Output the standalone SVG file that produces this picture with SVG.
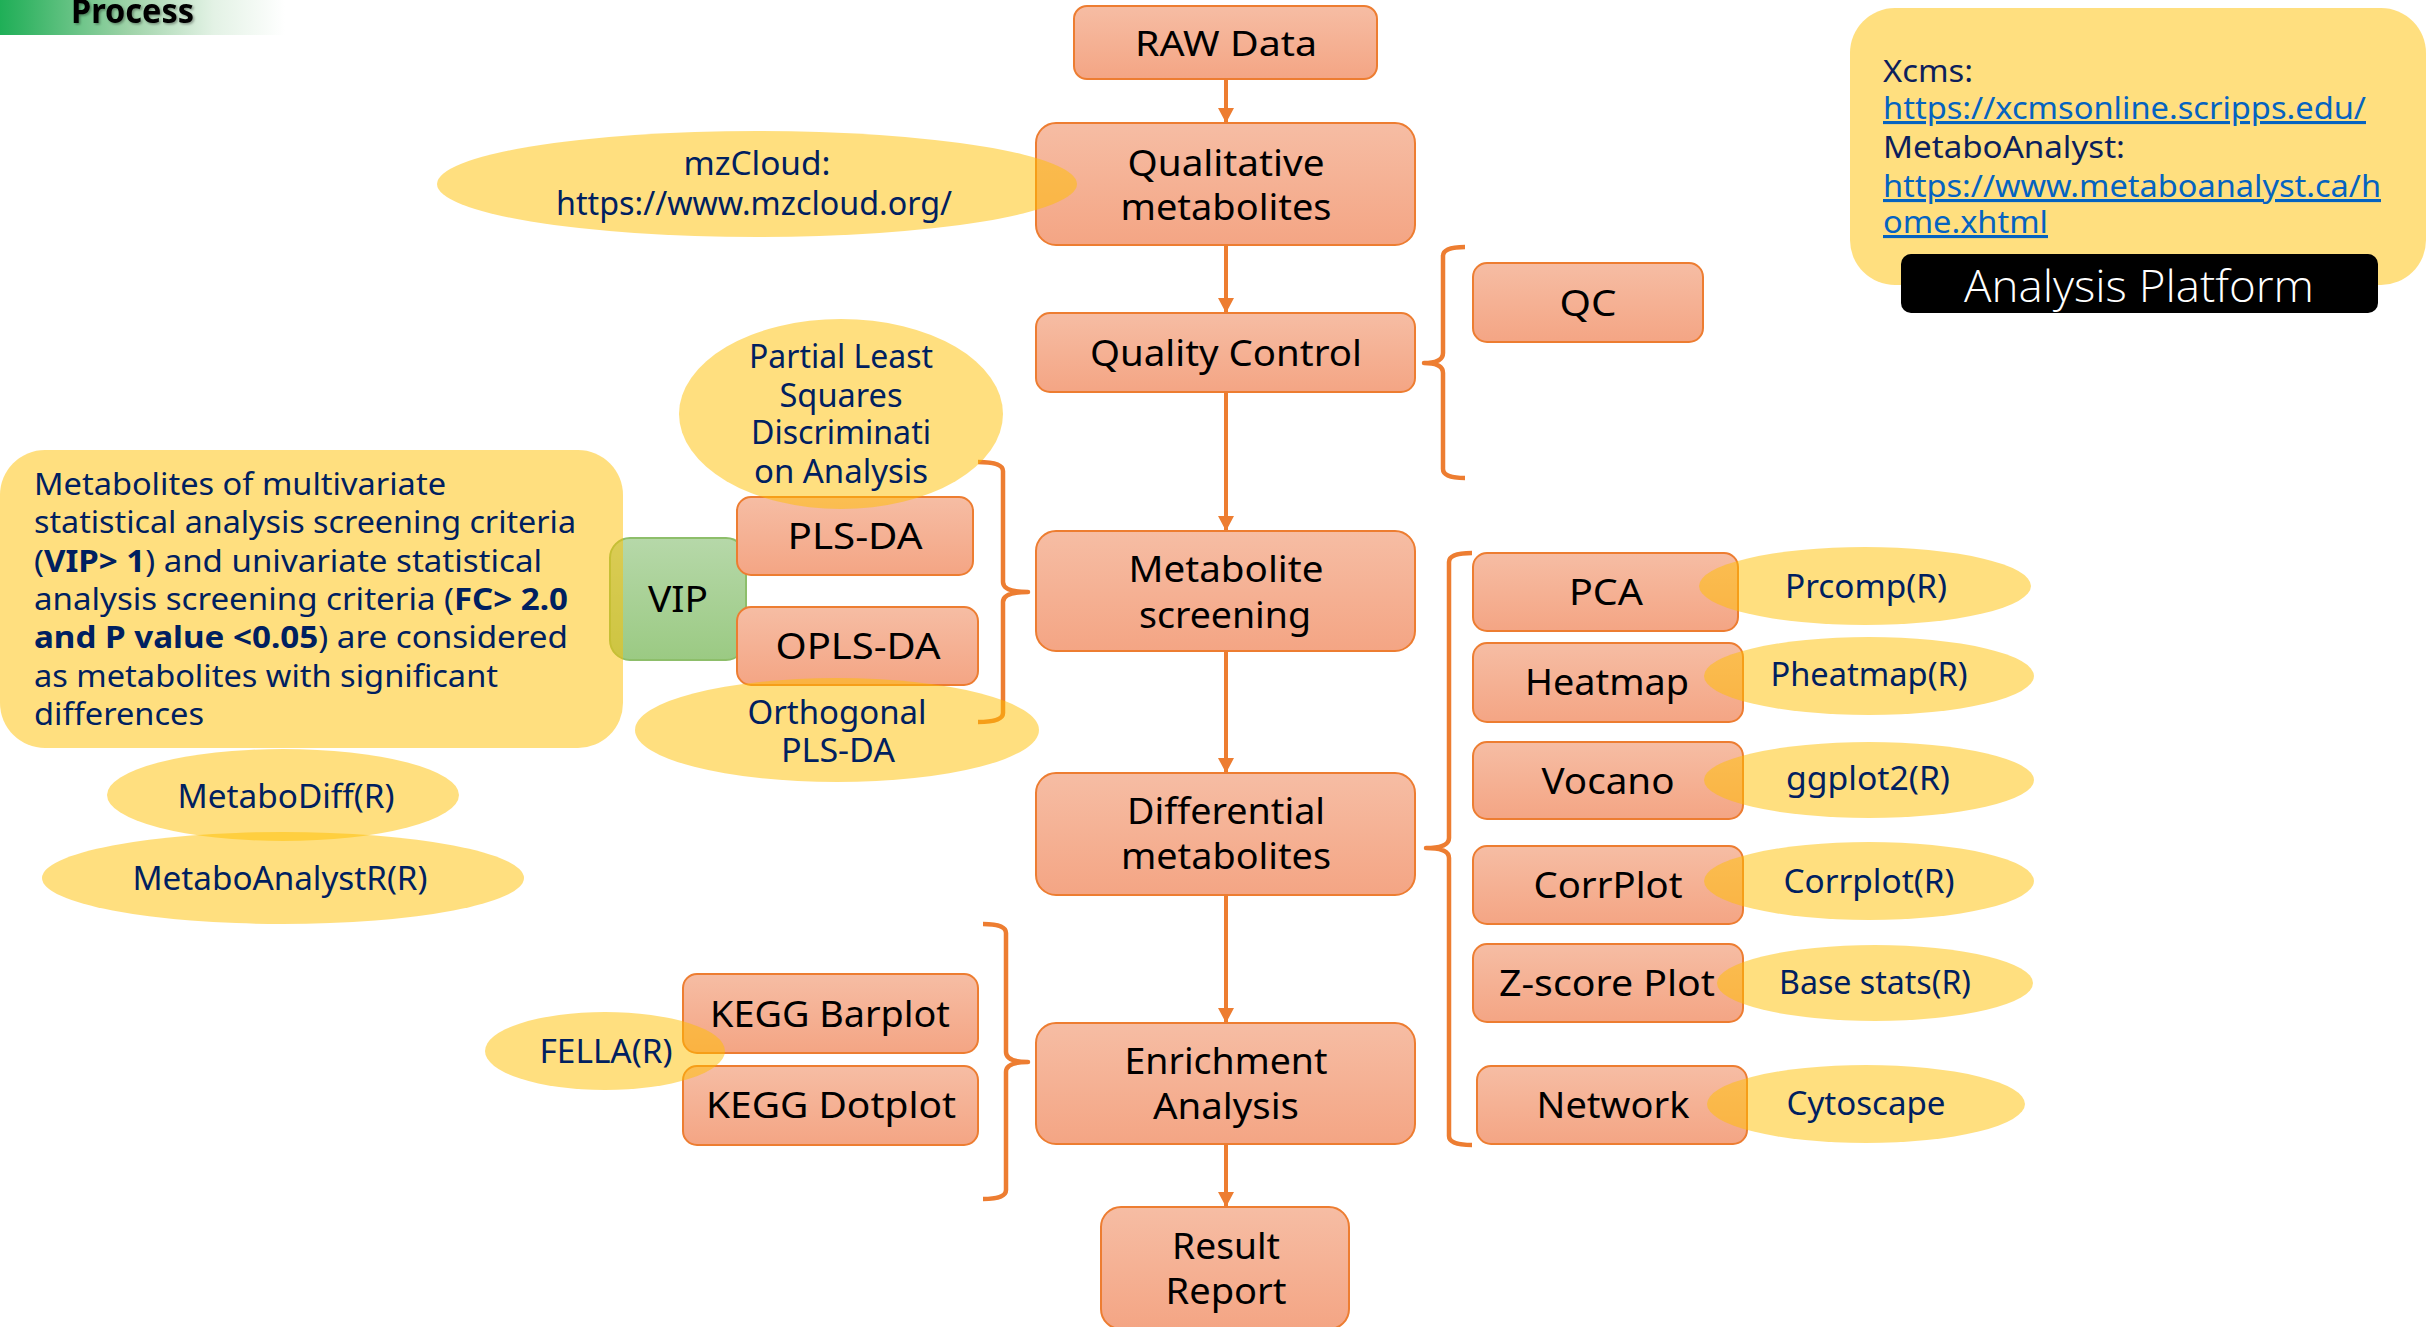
<svg xmlns="http://www.w3.org/2000/svg" width="2430" height="1327" viewBox="0 0 2430 1327">
<defs>
<linearGradient id="og" x1="0" y1="0" x2="0" y2="1"><stop offset="0" stop-color="#F6BDA4"/><stop offset="1" stop-color="#F4A584"/></linearGradient>
<linearGradient id="gg" x1="0" y1="0" x2="0" y2="1"><stop offset="0" stop-color="#B6D8A9"/><stop offset="1" stop-color="#9BCA83"/></linearGradient>
<linearGradient id="hdr" x1="0" y1="0" x2="1" y2="0"><stop offset="0" stop-color="#1FAF57"/><stop offset="0.08" stop-color="#34B464"/><stop offset="0.45" stop-color="#9ED3A8"/><stop offset="0.75" stop-color="#E3F2E5"/><stop offset="1" stop-color="#FFFFFF"/></linearGradient>
<marker id="ah" markerUnits="userSpaceOnUse" markerWidth="16" markerHeight="16" viewBox="0 0 15 16" refX="15" refY="8" orient="auto"><path d="M0,0 L15,8 L0,16 Z" fill="#ED7D31"/></marker>
<filter id="sh" x="-10%" y="-30%" width="130%" height="160%"><feDropShadow dx="1.5" dy="1.5" stdDeviation="1" flood-color="#000" flood-opacity="0.35"/></filter>
<style>
.box{fill:url(#og);stroke:#ED7D31;stroke-width:2}
.ell{fill:#FFC000;fill-opacity:0.5}
.yb{fill:#FFC000;fill-opacity:0.5}
.bt{font-family:"Noto Sans","Open Sans","DejaVu Sans",sans-serif;fill:#000;text-anchor:middle}
.et{font-family:"Noto Sans","Open Sans","DejaVu Sans",sans-serif;fill:#002060;font-size:32px;text-anchor:middle}
.lt{font-family:"Noto Sans","Open Sans","DejaVu Sans",sans-serif;fill:#002060;font-size:31px}
.pt{font-family:"Noto Sans","Open Sans","DejaVu Sans",sans-serif;fill:#0D1F5C;font-size:31px}
.lk{font-family:"Noto Sans","Open Sans","DejaVu Sans",sans-serif;fill:#0563C1;font-size:31px;text-decoration:underline}
.conn{stroke:#ED7D31;stroke-width:4;fill:none}
.brace{stroke:#ED7D31;stroke-width:4.5;fill:none;stroke-linejoin:round}
.b{font-weight:bold}
</style>
</defs>
<rect width="2430" height="1327" fill="#FFFFFF"/>

<g id="header">
<rect x="0" y="0" width="285" height="35" fill="url(#hdr)"/>
<text x="71" y="23" font-family="'Noto Sans','Open Sans',sans-serif" font-weight="bold" font-size="34" fill="#000" textLength="123" lengthAdjust="spacingAndGlyphs" filter="url(#sh)">Process</text>
</g>

<g id="connectors">
<line class="conn" x1="1226" y1="79" x2="1226" y2="123" marker-end="url(#ah)"/>
<line class="conn" x1="1226" y1="245" x2="1226" y2="313" marker-end="url(#ah)"/>
<line class="conn" x1="1226" y1="392" x2="1226" y2="531" marker-end="url(#ah)"/>
<line class="conn" x1="1226" y1="651" x2="1226" y2="773" marker-end="url(#ah)"/>
<line class="conn" x1="1226" y1="895" x2="1226" y2="1023" marker-end="url(#ah)"/>
<line class="conn" x1="1226" y1="1144" x2="1226" y2="1207" marker-end="url(#ah)"/>
<path class="brace" d="M1465,247 Q1443,247 1443,256 L1443,353 Q1443,363 1424,363 Q1443,363 1443,373 L1443,469 Q1443,478 1465,478"/>
<path class="brace" d="M1472,553 Q1449,553 1449,562 L1449,838 Q1449,848 1426,848 Q1449,848 1449,858 L1449,1136 Q1449,1145 1472,1145"/>
<path class="brace" d="M978,462 Q1003,462 1003,471 L1003,582 Q1003,592 1028,592 Q1003,592 1003,602 L1003,713 Q1003,722 978,722"/>
<path class="brace" d="M983,924 Q1006,924 1006,933 L1006,1052 Q1006,1062 1028,1062 Q1006,1062 1006,1072 L1006,1190 Q1006,1199 983,1199"/>
</g>

<g id="raw-data">
<rect class="box" x="1074" y="6" width="303" height="73" rx="13"/>
<text class="bt" x="1226" y="56" font-size="34" textLength="182" lengthAdjust="spacingAndGlyphs">RAW Data</text>
</g>
<g id="qualitative">
<rect class="box" x="1036" y="123" width="379" height="122" rx="20"/>
<text class="bt" x="1226" y="176" font-size="36" textLength="197" lengthAdjust="spacingAndGlyphs">Qualitative</text>
<text class="bt" x="1226" y="220" font-size="36" textLength="211" lengthAdjust="spacingAndGlyphs">metabolites</text>
</g>
<g id="quality-control">
<rect class="box" x="1036" y="313" width="379" height="79" rx="14"/>
<text class="bt" x="1226" y="366" font-size="36" textLength="272" lengthAdjust="spacingAndGlyphs">Quality Control</text>
</g>
<g id="metabolite-screening">
<rect class="box" x="1036" y="531" width="379" height="120" rx="20"/>
<text class="bt" x="1226" y="582" font-size="36" textLength="195" lengthAdjust="spacingAndGlyphs">Metabolite</text>
<text class="bt" x="1225" y="628" font-size="36" textLength="172" lengthAdjust="spacingAndGlyphs">screening</text>
</g>
<g id="differential-metabolites">
<rect class="box" x="1036" y="773" width="379" height="122" rx="20"/>
<text class="bt" x="1226" y="824" font-size="36" textLength="198" lengthAdjust="spacingAndGlyphs">Differential</text>
<text class="bt" x="1226" y="869" font-size="36" textLength="210" lengthAdjust="spacingAndGlyphs">metabolites</text>
</g>
<g id="enrichment-analysis">
<rect class="box" x="1036" y="1023" width="379" height="121" rx="20"/>
<text class="bt" x="1226" y="1074" font-size="36" textLength="203" lengthAdjust="spacingAndGlyphs">Enrichment</text>
<text class="bt" x="1226" y="1119" font-size="36" textLength="146" lengthAdjust="spacingAndGlyphs">Analysis</text>
</g>
<g id="result-report">
<rect class="box" x="1101" y="1207" width="248" height="122" rx="20"/>
<text class="bt" x="1226" y="1259" font-size="36" textLength="108" lengthAdjust="spacingAndGlyphs">Result</text>
<text class="bt" x="1226" y="1304" font-size="36" textLength="121" lengthAdjust="spacingAndGlyphs">Report</text>
</g>

<g id="mzcloud">
<ellipse class="ell" cx="757" cy="184" rx="320" ry="53"/>
<text class="et" x="757" y="175" textLength="147" lengthAdjust="spacingAndGlyphs">mzCloud:</text>
<text class="et" x="754" y="215" textLength="396" lengthAdjust="spacingAndGlyphs">https://www.mzcloud.org/</text>
</g>

<g id="qc">
<rect class="box" x="1473" y="263" width="230" height="79" rx="14"/>
<text class="bt" x="1588" y="316" font-size="37" textLength="57" lengthAdjust="spacingAndGlyphs">QC</text>
</g>

<g id="analysis-platform">
<rect class="yb" x="1850" y="8" width="576" height="277" rx="45"/>
<text class="pt" x="1883" y="82" textLength="90" lengthAdjust="spacingAndGlyphs">Xcms:</text>
<text class="lk" x="1883" y="119" textLength="483" lengthAdjust="spacingAndGlyphs">https://xcmsonline.scripps.edu/</text>
<text class="pt" x="1883" y="158" textLength="242" lengthAdjust="spacingAndGlyphs">MetaboAnalyst:</text>
<text class="lk" x="1883" y="197" textLength="498" lengthAdjust="spacingAndGlyphs">https://www.metaboanalyst.ca/h</text>
<text class="lk" x="1883" y="233" textLength="165" lengthAdjust="spacingAndGlyphs">ome.xhtml</text>
<rect x="1901" y="254" width="477" height="59" rx="10" fill="#000"/>
<text x="2139" y="302" font-family="'Open Sans','Noto Sans',sans-serif" font-weight="300" font-size="45" fill="#FFF" text-anchor="middle" textLength="350" lengthAdjust="spacingAndGlyphs">Analysis Platform</text>
</g>

<g id="vip">
<rect x="610" y="538" width="136" height="122" rx="20" fill="url(#gg)" stroke="#8DBE6A" stroke-width="2"/>
<text class="bt" x="678" y="612" font-size="37" textLength="60" lengthAdjust="spacingAndGlyphs">VIP</text>
</g>

<g id="criteria">
<rect class="yb" x="0" y="450" width="623" height="298" rx="45"/>
<text class="lt" x="34" y="495" textLength="412" lengthAdjust="spacingAndGlyphs">Metabolites of multivariate</text>
<text class="lt" x="34" y="533" textLength="542" lengthAdjust="spacingAndGlyphs">statistical analysis screening criteria</text>
<text class="lt" x="34" y="572" textLength="508" lengthAdjust="spacingAndGlyphs">(<tspan class="b">VIP&gt; 1</tspan>) and univariate statistical</text>
<text class="lt" x="34" y="610" textLength="534" lengthAdjust="spacingAndGlyphs">analysis screening criteria (<tspan class="b">FC&gt; 2.0</tspan></text>
<text class="lt" x="34" y="648" textLength="534" lengthAdjust="spacingAndGlyphs"><tspan class="b">and P value &lt;0.05</tspan>) are considered</text>
<text class="lt" x="34" y="687" textLength="464" lengthAdjust="spacingAndGlyphs">as metabolites with significant</text>
<text class="lt" x="34" y="725" textLength="170" lengthAdjust="spacingAndGlyphs">differences</text>
</g>

<g id="pls-da">
<rect class="box" x="737" y="497" width="236" height="78" rx="14"/>
<text class="bt" x="855" y="549" font-size="37" textLength="135" lengthAdjust="spacingAndGlyphs">PLS-DA</text>
</g>
<g id="pls-da-note">
<ellipse class="ell" cx="841" cy="414" rx="162" ry="95"/>
<text class="et" x="841" y="368" textLength="184" lengthAdjust="spacingAndGlyphs">Partial Least</text>
<text class="et" x="841" y="407" textLength="123" lengthAdjust="spacingAndGlyphs">Squares</text>
<text class="et" x="841" y="444" textLength="180" lengthAdjust="spacingAndGlyphs">Discriminati</text>
<text class="et" x="841" y="483" textLength="174" lengthAdjust="spacingAndGlyphs">on Analysis</text>
</g>
<g id="opls-da">
<rect class="box" x="737" y="607" width="241" height="78" rx="14"/>
<text class="bt" x="858" y="659" font-size="37" textLength="165" lengthAdjust="spacingAndGlyphs">OPLS-DA</text>
</g>
<g id="opls-da-note">
<ellipse class="ell" cx="837" cy="730" rx="202" ry="52"/>
<text class="et" x="837" y="724" textLength="179" lengthAdjust="spacingAndGlyphs">Orthogonal</text>
<text class="et" x="838" y="762" textLength="114" lengthAdjust="spacingAndGlyphs">PLS-DA</text>
</g>

<g id="metabodiff">
<ellipse class="ell" cx="283" cy="795" rx="176" ry="46"/>
<text class="et" x="286" y="808" textLength="217" lengthAdjust="spacingAndGlyphs">MetaboDiff(R)</text>
</g>
<g id="metaboanalystr">
<ellipse class="ell" cx="283" cy="878" rx="241" ry="46"/>
<text class="et" x="280" y="890" textLength="295" lengthAdjust="spacingAndGlyphs">MetaboAnalystR(R)</text>
</g>

<g id="kegg-barplot">
<rect class="box" x="683" y="974" width="295" height="79" rx="14"/>
<text class="bt" x="830" y="1027" font-size="37" textLength="240" lengthAdjust="spacingAndGlyphs">KEGG Barplot</text>
</g>
<g id="kegg-dotplot">
<rect class="box" x="683" y="1066" width="295" height="79" rx="14"/>
<text class="bt" x="831" y="1118" font-size="37" textLength="250" lengthAdjust="spacingAndGlyphs">KEGG Dotplot</text>
</g>
<g id="fella">
<ellipse class="ell" cx="605" cy="1051" rx="120" ry="39"/>
<text class="et" x="606" y="1063" textLength="133" lengthAdjust="spacingAndGlyphs">FELLA(R)</text>
</g>

<g id="pca">
<rect class="box" x="1473" y="553" width="265" height="78" rx="14"/>
<text class="bt" x="1606" y="605" font-size="37" textLength="74" lengthAdjust="spacingAndGlyphs">PCA</text>
</g>
<g id="heatmap">
<rect class="box" x="1473" y="643" width="270" height="79" rx="14"/>
<text class="bt" x="1607" y="695" font-size="37" textLength="164" lengthAdjust="spacingAndGlyphs">Heatmap</text>
</g>
<g id="vocano">
<rect class="box" x="1473" y="742" width="270" height="77" rx="14"/>
<text class="bt" x="1608" y="794" font-size="37" textLength="133" lengthAdjust="spacingAndGlyphs">Vocano</text>
</g>
<g id="corrplot">
<rect class="box" x="1473" y="846" width="270" height="78" rx="14"/>
<text class="bt" x="1608" y="898" font-size="37" textLength="149" lengthAdjust="spacingAndGlyphs">CorrPlot</text>
</g>
<g id="zscore-plot">
<rect class="box" x="1473" y="944" width="270" height="78" rx="14"/>
<text class="bt" x="1607" y="996" font-size="37" textLength="216" lengthAdjust="spacingAndGlyphs">Z-score Plot</text>
</g>
<g id="network">
<rect class="box" x="1477" y="1066" width="270" height="78" rx="14"/>
<text class="bt" x="1613" y="1118" font-size="37" textLength="153" lengthAdjust="spacingAndGlyphs">Network</text>
</g>

<g id="prcomp">
<ellipse class="ell" cx="1865" cy="586" rx="166" ry="39"/>
<text class="et" x="1866" y="598" textLength="162" lengthAdjust="spacingAndGlyphs">Prcomp(R)</text>
</g>
<g id="pheatmap">
<ellipse class="ell" cx="1869" cy="676" rx="165" ry="39"/>
<text class="et" x="1869" y="686" textLength="197" lengthAdjust="spacingAndGlyphs">Pheatmap(R)</text>
</g>
<g id="ggplot2">
<ellipse class="ell" cx="1869" cy="780" rx="165" ry="38"/>
<text class="et" x="1868" y="790" textLength="164" lengthAdjust="spacingAndGlyphs">ggplot2(R)</text>
</g>
<g id="corrplot-r">
<ellipse class="ell" cx="1869" cy="881" rx="165" ry="39"/>
<text class="et" x="1869" y="893" textLength="171" lengthAdjust="spacingAndGlyphs">Corrplot(R)</text>
</g>
<g id="base-stats">
<ellipse class="ell" cx="1875" cy="983" rx="158" ry="38"/>
<text class="et" x="1875" y="994" textLength="192" lengthAdjust="spacingAndGlyphs">Base stats(R)</text>
</g>
<g id="cytoscape">
<ellipse class="ell" cx="1866" cy="1104" rx="159" ry="39"/>
<text class="et" x="1866" y="1115" textLength="159" lengthAdjust="spacingAndGlyphs">Cytoscape</text>
</g>
</svg>
